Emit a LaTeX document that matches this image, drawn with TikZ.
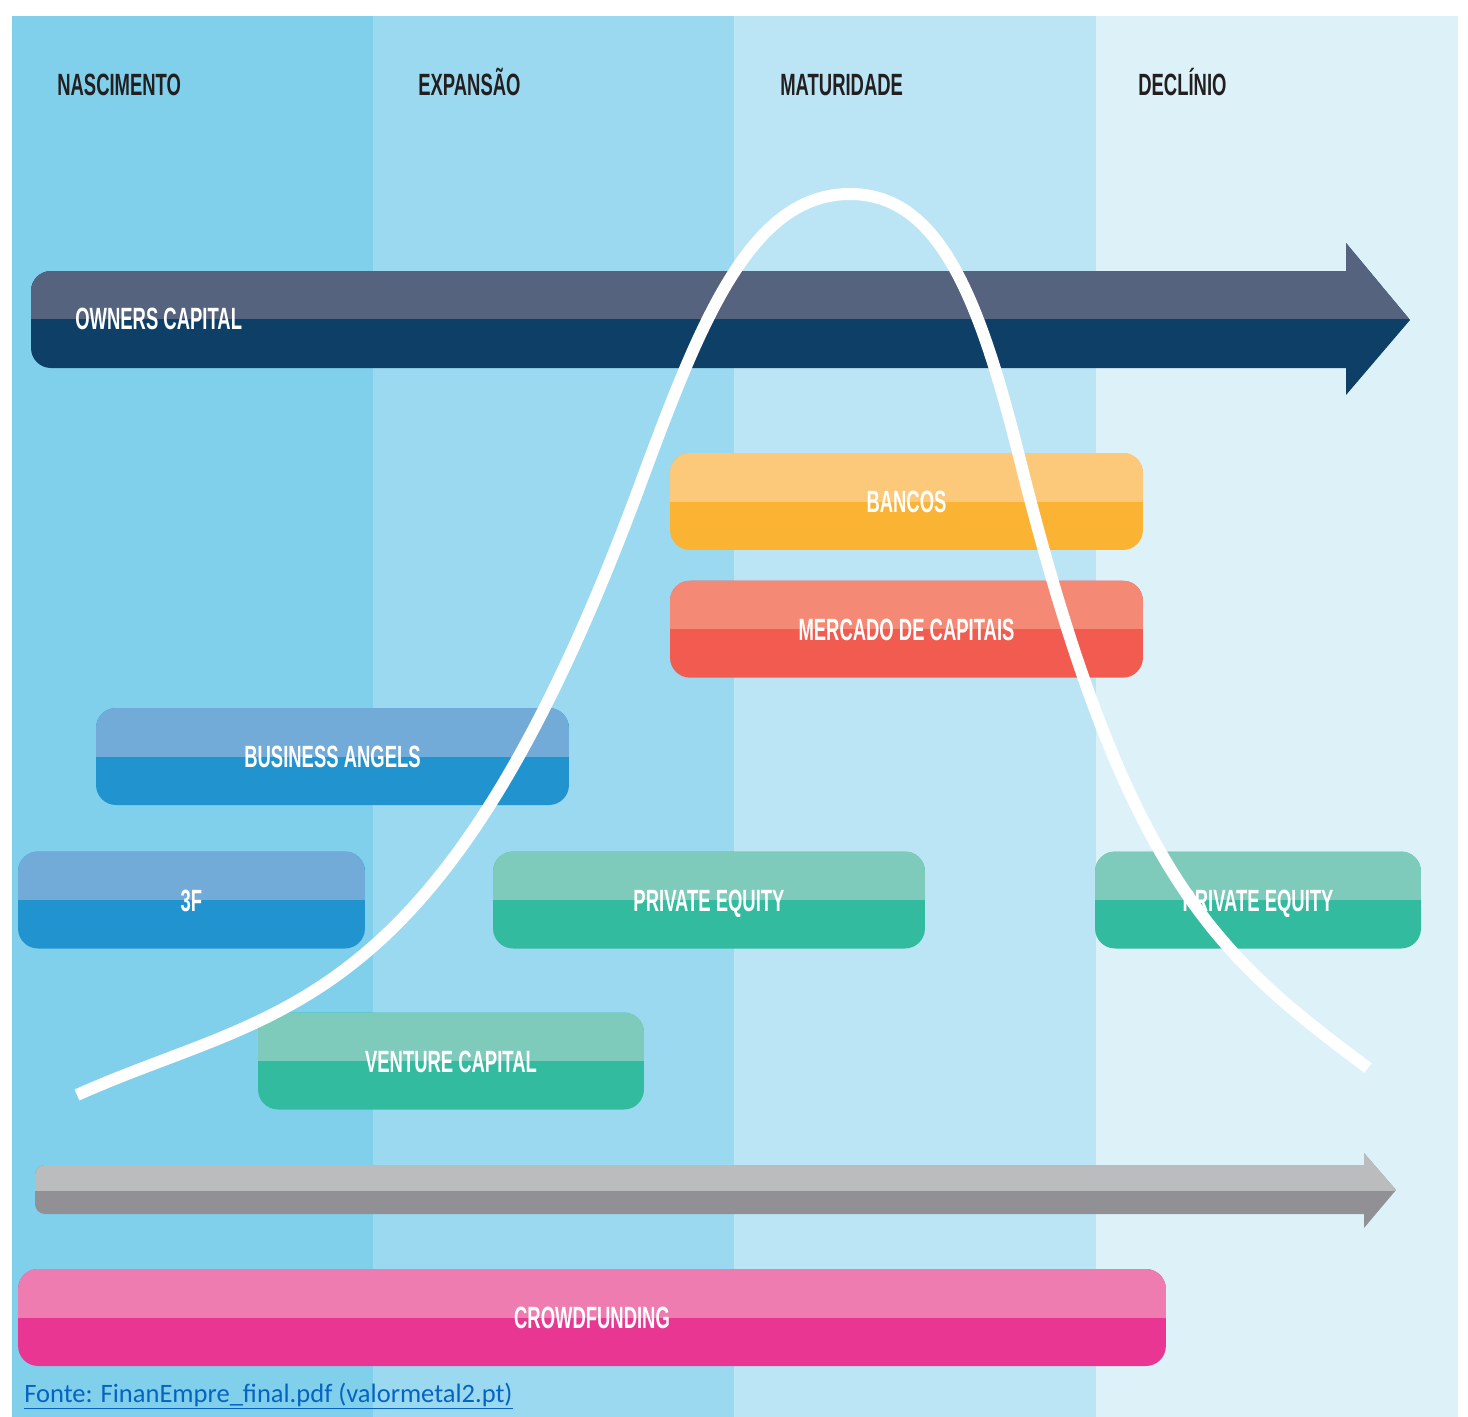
\documentclass[tikz,border=0pt]{standalone}
\usepackage{fontspec}
\usepackage{xcolor}
\usepackage{tikz}
\usetikzlibrary{positioning}

\newfontfamily\stagefont[FakeStretch=0.6]{Liberation Sans}
\newfontfamily\notefont{Carlito}

\definecolor{bandA}{HTML}{80D0EB}
\definecolor{bandB}{HTML}{9BD9F0}
\definecolor{bandC}{HTML}{BBE5F4}
\definecolor{bandD}{HTML}{DDF1F9}
\definecolor{stagetext}{HTML}{231F20}
\definecolor{ownersA}{HTML}{55637F}
\definecolor{ownersB}{HTML}{0E3F66}
\definecolor{bancosA}{HTML}{FCC97A}
\definecolor{bancosB}{HTML}{FBB334}
\definecolor{mercadoA}{HTML}{F48A75}
\definecolor{mercadoB}{HTML}{F25C50}
\definecolor{angelsA}{HTML}{72AAD8}
\definecolor{angelsB}{HTML}{2193CE}
\definecolor{equityA}{HTML}{7FCBBB}
\definecolor{equityB}{HTML}{33BBA0}
\definecolor{greyA}{HTML}{BBBCBE}
\definecolor{greyB}{HTML}{919195}
\definecolor{crowdA}{HTML}{EE7CB0}
\definecolor{crowdB}{HTML}{E93692}
\definecolor{linkblue}{HTML}{0563C1}

\begin{document}
\begin{tikzpicture}[
        x=0.02cm, y=-0.02cm,
        stage/.style={anchor=west, inner sep=0, text height=0.44cm, text depth=0pt, text=stagetext, font=\stagefont\bfseries\fontsize{17.5}{17.5}\selectfont},
        tag/.style={inner sep=0, text height=0.44cm, text depth=0pt, text=white, font=\stagefont\bfseries\fontsize{17.5}{17.5}\selectfont},
        box/.style={tag, rectangle, rounded corners=0.4cm, minimum height=1.94cm},
        twotone/.style 2 args={fill=#2, path picture={\fill[#1, sharp corners] (path picture bounding box.north west) rectangle (path picture bounding box.east);}},
        curve/.style={white, line width=0.24cm}
    ]
        % Stages
        \fill[white] (0,0) rectangle (1468,1417);
        \fill[bandA] (12,16) rectangle (373,1417);
        \fill[bandB] (373,16) rectangle (734,1417);
        \fill[bandC] (734,16) rectangle (1096,1417);
        \fill[bandD] (1096,16) rectangle (1458,1417);

        \node[stage] (nascimento) at (57,84) {NASCIMENTO};
        \node[stage] (expansao) at (418,84) {EXPANSÃO};
        \node[stage] (maturidade) at (780,84) {MATURIDADE};
        \node[stage] (declinio) at (1138,84) {DECLÍNIO};

        % Arrows
        \path[twotone={ownersA}{ownersB}] (31,320) [rounded corners=0.4cm] -- (31,271) [sharp corners] -- (1346,271) -- (1346,243) -- (1410,320) -- (1346,395) -- (1346,368) [rounded corners=0.4cm] -- (31,368) -- cycle;
        \node[tag, anchor=west] (owners) at (75,318) {OWNERS CAPITAL};

        \path[twotone={greyA}{greyB}] (35,1190) [rounded corners=0.2cm] -- (35,1165) [sharp corners] -- (1364,1165) -- (1364,1153) -- (1396,1190) -- (1364,1228) -- (1364,1214) [rounded corners=0.2cm] -- (35,1214) -- cycle;

        % Nodes
        \node[box, twotone={bancosA}{bancosB}, minimum width=9.46cm] (bancos) at (906.5,501.5) {BANCOS};
        \node[box, twotone={mercadoA}{mercadoB}, minimum width=9.46cm, below=0.6cm of bancos] (mercado) {MERCADO DE CAPITAIS};
        \node[box, twotone={angelsA}{angelsB}, minimum width=9.46cm] (angels) at (332.5,756.5) {BUSINESS ANGELS};
        \node[box, twotone={angelsA}{angelsB}, minimum width=6.94cm] (threef) at (191.5,900) {3F};
        \node[box, twotone={equityA}{equityB}, minimum width=8.64cm] (equity) at (709,900) {PRIVATE EQUITY};
        \node[box, twotone={equityA}{equityB}, minimum width=6.52cm] (equitylate) at (1258,900) {PRIVATE EQUITY};
        \node[box, twotone={equityA}{equityB}, minimum width=7.72cm] (venture) at (451,1061) {VENTURE CAPITAL};
        \node[box, twotone={crowdA}{crowdB}, minimum width=22.96cm] (crowd) at (592,1317.5) {CROWDFUNDING};

        % Life cycle
        \draw[curve] (77,1095) .. controls (277,1005) and (440,1025) .. (640,485)
            .. controls (700,323) and (750,194) .. (850,194)
            .. controls (940,194) and (980,300) .. (1020,460)
            .. controls (1125,880) and (1218,956) .. (1368,1068);

        % Source
        \node[anchor=base west, inner sep=0, text=linkblue, font=\notefont\fontsize{15.1}{15.1}\selectfont] (fonte) at (24,1402) {\underline{Fonte: FinanEmpre\_final.pdf (valormetal2.pt)}};
    \end{tikzpicture}
\end{document}
